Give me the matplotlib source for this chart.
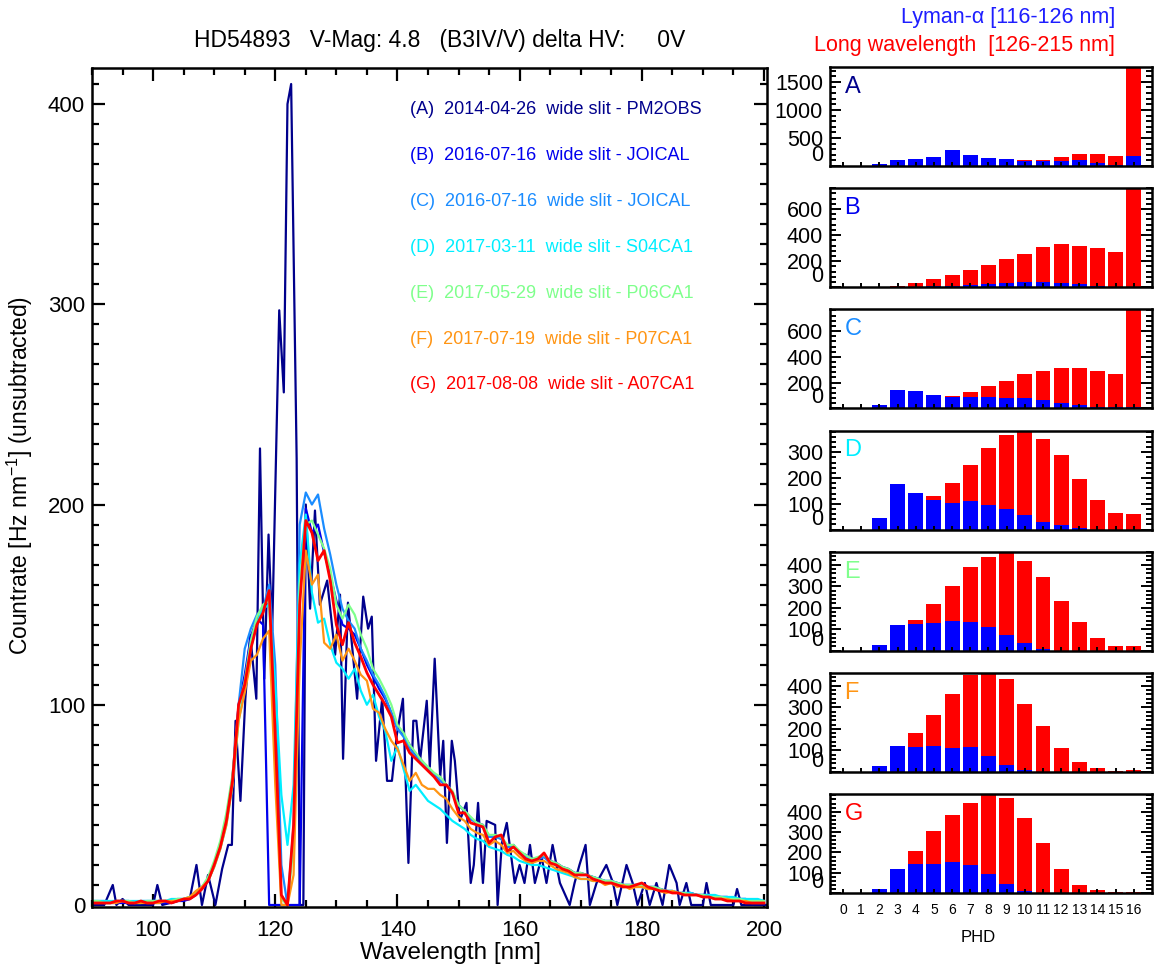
import numpy as np
import matplotlib
matplotlib.use('Agg')
from matplotlib import pyplot as plt
from matplotlib.ticker import MultipleLocator, AutoMinorLocator

plt.rcParams['font.family'] = ['Liberation Sans', 'DejaVu Sans']
plt.rcParams['mathtext.fontset'] = 'custom'
plt.rcParams['mathtext.rm'] = 'Liberation Sans'
plt.rcParams['mathtext.it'] = 'Liberation Sans:italic'

# ---- spectra ----
# (A) raw spectrum, read as (wavelength, countrate) pairs
spec_a = [(90, 0), (92, 0), (93.4, 10), (94, 0), (95, 3), (96, 0), (100, 0), (100.7, 10),
          (101.5, 0), (104, 2), (106, 3), (107.1, 20), (108, 0), (109, 15), (110.2, 0),
          (111.3, 18), (112.3, 30), (112.9, 30), (113.5, 92), (114.3, 52), (115.1, 103),
          (115.9, 135), (116.9, 103), (117.5, 228), (118.2, 113), (118.9, 185), (119.5, 137),
          (120.65, 297), (121.4, 256), (122.0, 400), (122.6, 410), (123.5, 223), (124.0, 0),
          (124.6, 0), (125.0, 200), (125.7, 148), (126.5, 197), (127.3, 150), (128.5, 162),
          (129.8, 125), (130.6, 155), (131.1, 73), (131.9, 151), (133.4, 103), (134.4, 154),
          (135.2, 138), (135.8, 144), (136.5, 72), (137.5, 103), (138.3, 62), (139.1, 62),
          (139.9, 85), (140.9, 103), (141.8, 21), (142.6, 92), (143.1, 92), (143.7, 72),
          (144.8, 102), (145.3, 69), (146.1, 123), (147.0, 64), (147.5, 82), (148.1, 31),
          (148.9, 82), (149.4, 72), (150.2, 42), (151.3, 51), (152.0, 11), (152.5, 20),
          (153.2, 51), (154.0, 11), (154.6, 42), (156.0, 40), (156.4, 0), (157.1, 31),
          (157.9, 41), (159.2, 11), (160.0, 20), (160.8, 11), (161.7, 30), (162.5, 11),
          (163.6, 24), (164.4, 11), (165.4, 30), (166.6, 11), (168.2, 0), (169.0, 11),
          (169.8, 20), (170.8, 30), (171.5, 0), (172.6, 11), (174.2, 20), (175.3, 11),
          (176.0, 0), (177.5, 20), (178.5, 11), (179.3, 0), (180.5, 11), (181.3, 0),
          (182.4, 11), (183.4, 0), (184.5, 20), (185.7, 11), (186.2, 0), (187.3, 11),
          (188.1, 0), (190.0, 0), (190.6, 11), (191.3, 0), (195.0, 0), (195.6, 8),
          (196.3, 0), (201.0, 0)]

# (B)-(G) on a 1 nm grid from 90 to 200 nm
wl = np.arange(90, 201)
spec_b = [1, 1, 1, 1, 1, 1, 1, 1, 1, 1,
          1, 1, 1, 1, 2, 2, 3, 5, 8, 12,
          20, 30, 43, 63, 100, 115, 134, 143, 140, 0,
          0, 0, 0, 0, 0, 198, 186, 190, 176, 165,
          152, 140, 138, 135, 128, 120, 114, 108, 103, 96,
          88, 85, 80, 75, 72, 68, 65, 62, 60, 56,
          50, 47, 43, 41, 40, 34, 35, 33, 29, 30,
          26, 25, 23, 23, 24, 22, 21, 19, 18, 16,
          16, 15, 14, 13, 12, 12, 11, 10, 10, 10,
          10, 9, 9, 8, 7, 7, 6, 6, 6, 5,
          5, 5, 4, 4, 4, 3, 3, 3, 2, 2,
          2]
spec_c = [2, 2, 2, 1, 2, 2, 2, 1, 2, 2,
          2, 2, 2, 2, 3, 3, 4, 6, 9, 13,
          20, 30, 44, 64, 100, 128, 138, 145, 148, 160,
          120, 20, 0, 40, 190, 206, 200, 205, 188, 175,
          160, 148, 142, 138, 128, 122, 115, 110, 104, 96,
          88, 84, 78, 74, 71, 68, 65, 62, 60, 56,
          50, 47, 43, 41, 39, 34, 34, 33, 29, 29,
          26, 24, 23, 23, 24, 21, 20, 19, 17, 16,
          15, 15, 14, 13, 12, 12, 11, 10, 10, 10,
          10, 9, 9, 8, 7, 7, 6, 6, 6, 5,
          5, 5, 4, 4, 4, 3, 3, 3, 2, 2,
          2]
spec_d = [2, 2, 2, 2, 2, 2, 2, 2, 2, 2,
          2, 2, 2, 3, 3, 3, 4, 6, 8, 12,
          19, 28, 40, 60, 92, 108, 128, 141, 148, 150,
          110, 55, 30, 60, 170, 195, 156, 141, 143, 130,
          121, 118, 113, 118, 107, 100, 105, 94, 87, 72,
          79, 68, 57, 60, 56, 52, 50, 48, 45, 42,
          40, 38, 35, 33, 32, 29, 28, 27, 25, 24,
          22, 21, 20, 20, 19, 18, 17, 16, 15, 14,
          13, 13, 12, 12, 11, 11, 10, 10, 9, 9,
          9, 8, 8, 7, 7, 7, 6, 6, 6, 5,
          5, 5, 5, 4, 4, 4, 3, 3, 3, 3,
          2]
spec_e = [2, 2, 1, 1, 2, 2, 2, 1, 1, 2,
          2, 2, 2, 2, 3, 3, 4, 6, 9, 14,
          22, 32, 46, 65, 98, 112, 132, 144, 150, 152,
          70, 3, 0, 30, 160, 190, 192, 185, 178, 168,
          150, 143, 150, 145, 135, 128, 118, 113, 107, 100,
          90, 86, 80, 76, 72, 69, 66, 64, 60, 57,
          50, 47, 44, 41, 40, 35, 35, 34, 30, 30,
          27, 25, 23, 24, 25, 22, 21, 19, 18, 16,
          16, 15, 14, 13, 12, 12, 11, 10, 10, 10,
          10, 9, 9, 8, 7, 7, 6, 6, 5, 5,
          5, 4, 4, 4, 3, 3, 3, 2, 2, 2,
          2]
spec_f = [1, 1, 1, 1, 1, 2, 1, 1, 1, 1,
          1, 1, 2, 2, 2, 3, 4, 7, 9, 12,
          19, 28, 40, 60, 92, 106, 122, 125, 133, 137,
          60, 0, 0, 15, 120, 177, 160, 165, 131, 128,
          135, 122, 128, 122, 115, 112, 98, 96, 88, 82,
          78, 70, 62, 66, 60, 58, 58, 55, 53, 48,
          44, 42, 38, 36, 35, 30, 32, 30, 26, 27,
          24, 22, 21, 22, 22, 20, 18, 17, 16, 14,
          13, 13, 12, 12, 10, 11, 9, 10, 8, 9,
          9, 8, 8, 7, 6, 7, 6, 5, 5, 5,
          4, 4, 3, 3, 3, 2, 2, 2, 1, 1,
          1]
spec_g = [1, 1, 1, 1, 2, 2, 1, 1, 2, 1,
          1, 2, 2, 1, 2, 3, 3, 5, 8, 12,
          20, 29, 42, 62, 100, 110, 128, 140, 146, 157,
          85, 5, 0, 40, 150, 192, 186, 172, 177, 162,
          140, 130, 141, 131, 124, 116, 110, 105, 100, 94,
          81, 82, 76, 73, 70, 67, 64, 60, 60, 56,
          46, 46, 41, 40, 39, 31, 34, 35, 27, 29,
          26, 23, 22, 23, 26, 21, 20, 18, 17, 15,
          15, 15, 13, 12, 11, 11, 10, 9, 9, 10,
          11, 9, 8, 7, 7, 6, 6, 5, 5, 5,
          4, 4, 3, 3, 2, 2, 2, 1, 1, 1,
          1]

labels = ['(A)  2014-04-26  wide slit - PM2OBS',
          '(B)  2016-07-16  wide slit - JOICAL',
          '(C)  2016-07-16  wide slit - JOICAL',
          '(D)  2017-03-11  wide slit - S04CA1',
          '(E)  2017-05-29  wide slit - P06CA1',
          '(F)  2017-07-19  wide slit - P07CA1',
          '(G)  2017-08-08  wide slit - A07CA1']
letters = ['A', 'B', 'C', 'D', 'E', 'F', 'G']
colors = ['#00008C', '#0000EE', '#1A8CFF', '#00EEFF', '#7FFF8C', '#FF9514', '#FF0000']

# ---- pulse height distributions ----
phd = np.arange(17)
lya_a = [0, 0, 35, 106, 123, 159, 282, 194, 141, 123, 88, 88, 88, 106, 53, 12, 170]
long_a = [0, 0, 0, 0, 0, 0, 0, 0, 0, 0, 106, 106, 159, 206, 206, 170, 1765]
lya_b = [0, 0, 0, 0, 0, 10, 10, 19, 27, 32, 43, 43, 32, 27, 11, 4, 0]
long_b = [0, 0, 0, 10, 34, 60, 97, 130, 174, 213, 252, 306, 329, 314, 298, 270, 760]
lya_c = [0, 0, 23, 142, 132, 101, 88, 88, 88, 77, 77, 62, 39, 23, 10, 10, 10]
long_c = [0, 0, 0, 0, 0, 0, 93, 124, 170, 212, 263, 294, 317, 310, 289, 263, 768]
lya_d = [0, 0, 45, 178, 143, 116, 104, 110, 97, 81, 58, 31, 17, 5, 0, 0, 0]
long_d = [0, 0, 0, 0, 0, 132, 182, 252, 318, 368, 384, 352, 291, 197, 116, 66, 62]
lya_e = [0, 0, 28, 120, 125, 129, 138, 135, 111, 74, 34, 9, 0, 0, 0, 0, 0]
long_e = [0, 0, 0, 0, 143, 218, 303, 390, 438, 460, 417, 343, 232, 135, 60, 23, 23]
lya_f = [0, 0, 29, 122, 117, 122, 112, 117, 75, 34, 11, 0, 0, 0, 0, 0, 0]
long_f = [0, 0, 0, 0, 182, 265, 362, 450, 459, 431, 316, 214, 112, 48, 20, 6, 11]
lya_g = [0, 0, 21, 118, 144, 144, 154, 138, 95, 47, 11, 0, 0, 0, 0, 0, 0]
long_g = [0, 0, 0, 0, 207, 307, 384, 443, 486, 467, 370, 244, 118, 40, 16, 6, 6]
yticks_hist = [[0, 500, 1000, 1500], [0, 200, 400, 600], [0, 200, 400, 600],
               [0, 100, 200, 300], [0, 100, 200, 300, 400],
               [0, 100, 200, 300, 400], [0, 100, 200, 300, 400]]

W, H = 1161, 969
fig = plt.figure(figsize=(W / 100, H / 100), dpi=100)

# main spectrum panel
ax = fig.add_axes([92 / W, 1 - 907 / H, (767 - 92) / W, (907 - 68) / H])
xa, ya = zip(*spec_a)
ax.plot(xa, ya, color=colors[0], lw=1.6)
for s, c in zip([spec_b, spec_c, spec_d, spec_e, spec_f, spec_g], colors[1:]):
    ax.plot(wl, s, color=c, lw=1.6 if c != '#FF0000' else 2.0)
ax.set_xlim(90, 200.5)
ax.set_ylim(-1, 418)
ax.xaxis.set_major_locator(MultipleLocator(20))
ax.xaxis.set_minor_locator(MultipleLocator(5))
ax.yaxis.set_major_locator(MultipleLocator(100))
ax.yaxis.set_minor_locator(MultipleLocator(10))
ax.tick_params(which='both', direction='in', top=True, right=True, width=1.6)
ax.tick_params(which='major', length=9.5)
ax.tick_params(which='minor', length=5)
ax.tick_params(axis='x', labelsize=16, pad=9)
ax.tick_params(axis='y', labelsize=16, pad=5)
for sp in ax.spines.values():
    sp.set_linewidth(1.8)

for i, (lab, c) in enumerate(zip(labels, colors)):
    fig.text(410 / W, 1 - (110 + 45.8 * i) / H, lab, color=c, fontsize=13,
             ha='left', va='center')

fig.text(440 / W, 1 - 40 / H, 'HD54893   V-Mag: 4.8   (B3IV/V) delta HV:     0V',
         fontsize=16.5, ha='center', va='center')
fig.text(450 / W, 1 - 953 / H, 'Wavelength [nm]', fontsize=17.5, ha='center', va='center')
fig.text(20 / W, 1 - 475 / H, 'Countrate [Hz nm$^{-1}$] (unsubtracted)', fontsize=16.5,
         rotation=90, ha='center', va='center')

fig.text(1115 / W, 1 - 18 / H, 'Lyman-α [116-126 nm]', color='#1E1EFF', fontsize=15.5,
         ha='right', va='center')
fig.text(1115 / W, 1 - 46 / H, 'Long wavelength  [126-215 nm]', color='#FF0000',
         fontsize=15.5, ha='right', va='center')

# PHD panels
lya_all = [lya_a, lya_b, lya_c, lya_d, lya_e, lya_f, lya_g]
long_all = [long_a, long_b, long_c, long_d, long_e, long_f, long_g]
for i in range(7):
    top = 67 + 121.2 * i
    hx = fig.add_axes([830 / W, 1 - (top + 99) / H, (1152 - 830) / W, 99 / H])
    hx.bar(phd, long_all[i], width=0.82, color='#FF0000')
    hx.bar(phd, lya_all[i], width=0.82, color='#0000FF')
    hx.set_xlim(-0.72, 17.0)
    hx.set_ylim(0, max(long_all[i]))
    hx.set_yticks(yticks_hist[i])
    hx.yaxis.set_minor_locator(AutoMinorLocator(5))
    hx.set_xticks(phd)
    hx.tick_params(axis='y', which='both', direction='in', left=True, right=True,
                   labelsize=15.5, pad=5, width=1.4)
    hx.tick_params(axis='y', which='major', length=8)
    hx.tick_params(axis='y', which='minor', length=4)
    hx.tick_params(axis='x', direction='in', length=3, width=1.4, labelsize=10, pad=7)
    hx.yaxis.get_major_ticks()[0].label1.set_verticalalignment('bottom')
    if i < 6:
        hx.set_xticklabels([])
    for sp in hx.spines.values():
        sp.set_linewidth(1.8)
    hx.text(0.045, 0.8, letters[i], transform=hx.transAxes, color=colors[i],
            fontsize=17, ha='left', va='center')

fig.text(978 / W, 1 - 938 / H, 'PHD', fontsize=12, ha='center', va='center')

fig.savefig('out.png', dpi=100)
